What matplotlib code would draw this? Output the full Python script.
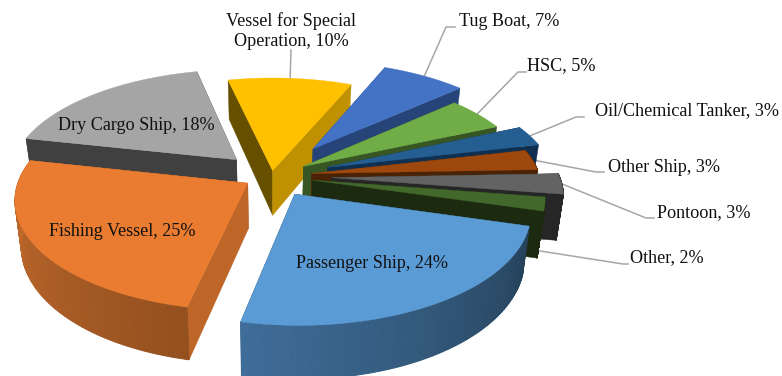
import numpy as np
import matplotlib
matplotlib.use("Agg")
import matplotlib.pyplot as plt
from matplotlib.collections import PolyCollection
from matplotlib.colors import to_rgb

categories = ["Passenger Ship", "Fishing Vessel", "Dry Cargo Ship", "Vessel for Special\nOperation",
              "Tug Boat", "HSC", "Oil/Chemical Tanker", "Other Ship", "Pontoon", "Other"]
shares = [24, 25, 18, 10, 7, 5, 3, 3, 3, 2]
explode = [0.193, 0.123, 0.221, 0.051, 0.323, 0.168, 0.261, 0.179, 0.263, 0.184]

top_colors = ["#5B9BD5", "#E97C30", "#A5A5A5", "#FFC000", "#4472C4",
              "#70AD47", "#255E91", "#9E480E", "#636363", "#43682B"]
# colour of the cut face at the start and at the end of each wedge
start_face = ["#254159", "#BE6528", "#404040", "#665000", "#264478",
              "#375623", "#0F3050", "#4A2206", "#262626", "#1C2B0F"]
end_face = ["#254159", "#BE6528", "#404040", "#BF9000", "#264478",
            "#375623", "#0F3050", "#4A2206", "#262626", "#1C2B0F"]
# rim shading runs from the start of a wedge to its end
rim_start = ["#244058", "#94501F", "#404040", "#665000", "#264478",
             "#375623", "#0F3050", "#4A2206", "#262626", "#1C2B0F"]
rim_end = ["#3F6D99", "#C96E2E", "#404040", "#665000", "#264478",
           "#375623", "#0F3050", "#4A2206", "#262626", "#1C2B0F"]

# wedges are painted back to front
paint_order = [2, 3, 4, 5, 6, 7, 8, 9, 1, 0]

# camera: pie centre in pixels, radius, tilt, perspective strength, first-wedge angle
cx, cy, radius, tilt, persp, start_angle = 271.6, 176.0, 227.8, 0.47, 0.141, 15.9
depth, base_shrink = 45, 0.975

# text placement in pixels: (x, y, horizontal alignment)
label_pos = [(296, 264, "left"), (49, 232, "left"), (58, 126, "left"), (291, 31, "center"),
             (459, 21, "left"), (527, 66, "left"), (595, 111, "left"), (608, 167, "left"),
             (657, 213, "left"), (630, 258, "left")]
# leader elbows in pixels, None where the label sits on its wedge
leader_elbow = [None, None, None, [(291, 50)], [(446, 27), (455, 27)], [(518, 72), (526, 72)],
                [(576, 117), (584, 117)], [(596, 172), (604, 172)], [(646, 218), (654, 218)],
                [(623, 264), (628, 264)]]

plt.rcParams["font.family"] = ["Liberation Serif", "DejaVu Serif"]

fig = plt.figure(figsize=(7.82, 3.76), dpi=100)
ax = fig.add_axes([0, 0, 1, 1])
ax.set_xlim(0, 782)
ax.set_ylim(376, 0)
ax.axis("off")


def top_xy(u, v):
    s = 1 / (1 - persp * v)
    return np.column_stack([cx + radius * u * s, cy + radius * tilt * v * s])


def base_xy(u, v):
    s = 1 / (1 - persp * v)
    xy = top_xy(u, v)
    xy[:, 0] = cx + (xy[:, 0] - cx) * base_shrink
    xy[:, 1] += depth * s
    return xy


spans = np.array(shares) / sum(shares) * 360
edges = start_angle + np.concatenate([[0], np.cumsum(spans)])
rim_mid = {}

for z, i in enumerate(paint_order):
    a, b = edges[i], edges[i + 1]
    mid = np.radians((a + b) / 2)
    au, av = np.array([explode[i] * np.cos(mid)]), np.array([explode[i] * np.sin(mid)])
    phi = np.radians(np.linspace(a, b, 90))
    us, vs = au + np.cos(phi), av + np.sin(phi)
    rim_top, rim_base = top_xy(us, vs), base_xy(us, vs)
    apex_top, apex_base = top_xy(au, av), base_xy(au, av)
    mid_u, mid_v = au + np.cos(mid), av + np.sin(mid)
    rim_mid[i] = top_xy(mid_u, mid_v)[0], base_xy(mid_u, mid_v)[0]

    # the two cut faces
    for rim_idx, col in ((0, start_face[i]), (-1, end_face[i])):
        face = [apex_top[0], rim_top[rim_idx], rim_base[rim_idx], apex_base[0]]
        ax.add_patch(plt.Polygon(face, facecolor=col, edgecolor=col, linewidth=0.3, zorder=10 + 2 * z))

    # outer wall as thin shaded strips, only where it faces the viewer
    c0, c1 = np.array(to_rgb(rim_start[i])), np.array(to_rgb(rim_end[i]))
    n = len(phi) - 1
    front = [k for k in range(n) if np.sin(phi[k]) > -0.22]
    if front:
        quads = [[rim_top[k], rim_top[k + 1], rim_base[k + 1], rim_base[k]] for k in front]
        cols = [c0 + (c1 - c0) * k / (n - 1) for k in front]
        ax.add_collection(PolyCollection(quads, facecolors=cols, edgecolors=cols, linewidths=0.7,
                                         zorder=10 + 2 * z))

    # upper surface
    ax.add_patch(plt.Polygon(np.vstack([apex_top, rim_top]), facecolor=top_colors[i],
                             edgecolor=top_colors[i], linewidth=0.3, zorder=11 + 2 * z))

for i, name in enumerate(categories):
    x, y, ha = label_pos[i]
    ax.text(x, y, f"{name}, {shares[i]}%", ha=ha, va="center", fontsize=13.1, color="#111111",
            linespacing=1.22, zorder=60)
    if leader_elbow[i]:
        start = rim_mid[i][1] if name == "Other" else rim_mid[i][0]
        pts = np.vstack([start, leader_elbow[i]])
        ax.plot(pts[:, 0], pts[:, 1], color="#A6A6A6", lw=1.1, zorder=5)

fig.savefig("out.png", dpi=100)
